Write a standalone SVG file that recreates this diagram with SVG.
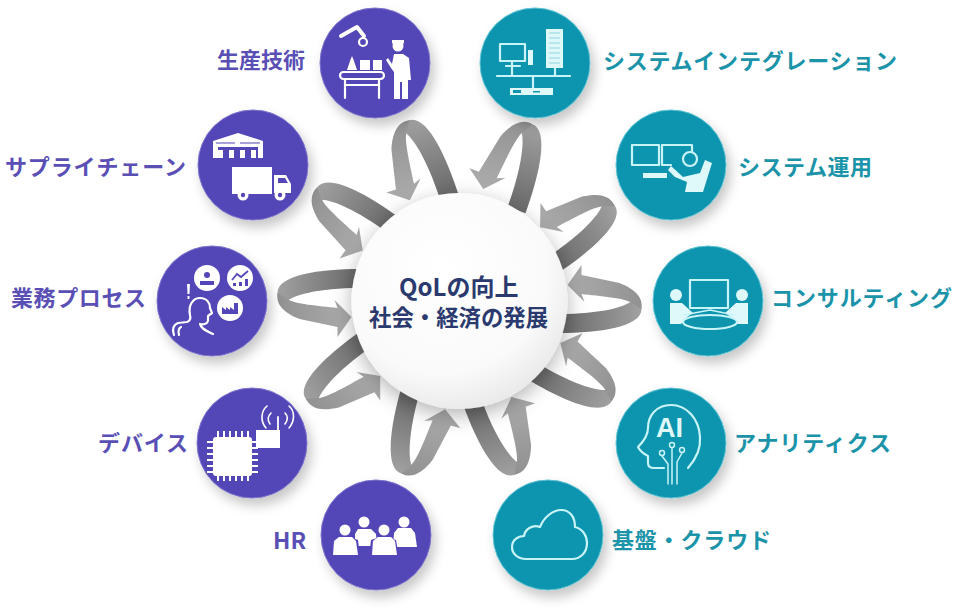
<svg xmlns="http://www.w3.org/2000/svg" width="960" height="608" viewBox="0 0 960 608">
<style>
.lbl{font-family:"Noto Sans CJK JP","Noto Sans",sans-serif;font-weight:700;font-size:22px}
.p{fill:#5a4fb5}.t{fill:#1b93a9}
.cp{fill:#5346b8;stroke:#7d74cc;stroke-width:1}.ct{fill:#0f94ae;stroke:#5fc3d3;stroke-width:1}
.w{fill:#fff;stroke:none}
.o{fill:none;stroke:#fff;stroke-width:2.2;stroke-linejoin:round;stroke-linecap:round}
.oc{fill:none;stroke:#c8f4f8;stroke-width:2.2;stroke-linejoin:round;stroke-linecap:round}
.fc{fill:#dff8fa;stroke:none}
.center{font-family:"Noto Sans CJK JP","Noto Sans",sans-serif;font-weight:700;font-size:22.4px;fill:#2b3a6e}
</style>
<defs>
<filter id="sh" x="-30%" y="-30%" width="170%" height="170%"><feDropShadow dx="4" dy="7" stdDeviation="6" flood-color="#000" flood-opacity=".22"/></filter>
<filter id="shc" x="-30%" y="-30%" width="160%" height="160%"><feDropShadow dx="0" dy="6" stdDeviation="10" flood-color="#000" flood-opacity=".3"/></filter>
<linearGradient id="gd" gradientUnits="userSpaceOnUse" x1="-108" y1="0" x2="-181" y2="0"><stop offset="0" stop-color="#6e6e6e"/><stop offset="1" stop-color="#a0a0a0"/></linearGradient>
<linearGradient id="gl" gradientUnits="userSpaceOnUse" x1="-181" y1="0" x2="-108" y2="0"><stop offset="0" stop-color="#929292"/><stop offset="1" stop-color="#acacac"/></linearGradient>
<radialGradient id="gc" cx=".42" cy=".35" r=".75"><stop offset="0" stop-color="#fff"/><stop offset=".65" stop-color="#fafafa"/><stop offset="1" stop-color="#e2e2e2"/></radialGradient>
<g id="loop">
<path fill="url(#gd)" d="M-100,-32C-140,-32-182,-26-182,-8C-182,-4-180,0-175,3C-170,-6-140,-13-100,-13Z"/>
<path fill="url(#gl)" d="M-182,-8C-184,4-175,12-160,18L-122,26L-122,36L-108,16L-125,-1L-122,7C-140,5-166,3-172,-2Z"/>
</g>
</defs>
<rect width="960" height="608" fill="#fff"/>
<g id="connectors">
<use href="#loop" transform="translate(459.5 301) rotate(0)"/>
<use href="#loop" transform="translate(459.5 301) rotate(36)"/>
<use href="#loop" transform="translate(459.5 301) rotate(72) scale(1.03 1)"/>
<use href="#loop" transform="translate(459.5 301) rotate(110) scale(1.05 1)"/>
<use href="#loop" transform="translate(459.5 301) rotate(146)"/>
<use href="#loop" transform="translate(459.5 301) rotate(180)"/>
<use href="#loop" transform="translate(459.5 301) rotate(211)"/>
<use href="#loop" transform="translate(459.5 301) rotate(250)"/>
<use href="#loop" transform="translate(459.5 301) rotate(286)"/>
<use href="#loop" transform="translate(459.5 301) rotate(325)"/>
</g>
<g id="center">
<circle cx="459.5" cy="301" r="108" fill="url(#gc)" filter="url(#shc)"/>
<text class="center" x="399" y="296" style="font-size:24px">QoLの向上</text>
<text class="center" x="369" y="326">社会・経済の発展</text>
</g>
<g id="n-seisan">
<circle class="cp" cx="375" cy="63" r="55" filter="url(#sh)"/>
<path class="o" style="stroke-width:4" d="M341,36L357,27L364,36"/>
<circle class="o" cx="363" cy="42" r="4"/>
<path class="w" d="M347,70L350,61L352,56L354,61L357,70ZM360,60H370V70H360ZM373,60H382V70H373Z"/>
<rect class="o" x="340" y="72" width="44" height="7" rx="3.5"/>
<path class="o" d="M345,79V98M379,79V98M345,85H379"/>
<circle class="w" cx="398" cy="46" r="5.5"/><rect class="w" x="392" y="40" width="12" height="3.5"/>
<path class="w" d="M386,60L388,58L392,64L394,54H403L409,58L411,80H408V99H402V82H400V99H394V72L391,68Z"/>
<text class="lbl p" x="217" y="68" textLength="88" lengthAdjust="spacing">生産技術</text>
</g>
<g id="n-supply">
<circle class="cp" cx="253" cy="165" r="55" filter="url(#sh)"/>
<path class="w" d="M213,141L238,133L263,141V158H258V147H218V158H213Z"/>
<path d="M216,143H235M240,143H260" stroke="#5346b8" stroke-width="1.2"/>
<path class="w" d="M218,150H223V158H218ZM229,150H234V158H229ZM240,150H245V158H240ZM251,150H256V158H251Z"/>
<path class="w" d="M232,167H272V194H232ZM274,175H286L291,184V193H274Z"/>
<path d="M278,178H285L288,183H278Z" fill="#5346b8"/>
<circle class="w" cx="243" cy="195" r="5.5"/><circle cx="243" cy="195" r="2.2" fill="#5346b8"/>
<circle class="w" cx="280" cy="195" r="5.5"/><circle cx="280" cy="195" r="2.2" fill="#5346b8"/>
<text class="lbl p" x="5" y="175" textLength="181" lengthAdjust="spacing">サプライチェーン</text>
</g>
<g id="n-process">
<circle class="cp" cx="212" cy="301" r="55" filter="url(#sh)"/>
<circle class="w" cx="207" cy="278" r="13"/><circle class="w" cx="240" cy="278" r="13"/><circle class="w" cx="230" cy="308" r="13"/>
<circle cx="207" cy="275" r="3" fill="#5346b8"/><path d="M200,285V281H214V285Z" fill="#5346b8"/>
<path d="M232,280L237,274L241,277L248,271" fill="none" stroke="#5346b8" stroke-width="1.8"/><path d="M233,283h3v3h-3zM239,282h3v4h-3zM245,279h3v7h-3z" fill="#5346b8"/>
<path d="M222,314V307L226,310V307L230,310V307L234,310V303H238V314Z" fill="#5346b8"/>
<path class="w" d="M187,284H190L189.500,294H187.500ZM187.500,296H189.500V299H187.500Z"/>
<path class="o" d="M174,335C172,329 173,325 178,323L187,322C190,321 191,319 190,315C188,305 193,298 200,298C207,298 210,303 210,308L212,313L208,316V321C207,324 203,325 200,324C201,329 207,331 213,334"/>
<path class="o" d="M179,335C178,331 179,328 181,327"/>
<text class="lbl p" x="11" y="306" textLength="135" lengthAdjust="spacing">業務プロセス</text>
</g>
<g id="n-device">
<circle class="cp" cx="252" cy="443" r="55" filter="url(#sh)"/>
<path d="M218,431V481M224,431V481M230,431V481M236,431V481M242,431V481M248,431V481M207,442H258M207,448H258M207,454H258M207,460H258M207,466H258M207,472H258" stroke="#fff" stroke-width="2"/>
<rect class="w" x="213" y="437" width="39" height="39" rx="3"/>
<rect class="w" x="256" y="430" width="24" height="18"/>
<path class="o" d="M278,417V430" style="stroke-width:1.800"/>
<path class="o" style="stroke-width:1.600" d="M270,424C267,420 268,416 271,413M266,428C260,421 261,411 267,406M285,424C288,420 288,416 285,413M289,428C295,421 295,411 289,406"/>
<text class="lbl p" x="98" y="451" textLength="90" lengthAdjust="spacing">デバイス</text>
</g>
<g id="n-hr">
<circle class="cp" cx="376" cy="535" r="55" filter="url(#sh)"/>
<circle class="w" cx="364" cy="522" r="5.500"/><path class="w" d="M358,529H371L376,534L377,546H355L355,534Z"/>
<circle class="w" cx="404" cy="522" r="5.500"/><path class="w" d="M398,528H411L415,533L417,547H393L394,533Z"/>
<path d="M344,536H347L358,540L360,556H332L334,540Z" fill="#5346b8"/>
<circle class="w" cx="345" cy="530" r="5.500"/><path class="w" d="M339,537H352L356,541L358,555H333L334,541Z"/>
<path d="M383,536L371,540L369,557H399L396,540Z" fill="#5346b8"/>
<circle class="w" cx="384" cy="530" r="5.500"/><path class="w" d="M378,537H391L395,541L397,555H372L373,541Z"/>
<text class="lbl p" x="273" y="549" style="font-size:23px">HR</text>
</g>
<g id="n-si">
<circle class="ct" cx="535" cy="63" r="55" filter="url(#sh)"/>
<rect class="oc" x="500" y="44" width="25" height="17"/>
<rect class="fc" x="528" y="50" width="5" height="15"/>
<rect class="fc" x="546" y="29" width="17" height="39"/>
<path d="M549,33H560M549,38H560M549,43H560M549,48H560M549,53H560M549,58H560M549,63H560" stroke="#8fd6e0" stroke-width="1"/>
<path class="oc" d="M506,66H520M512,61V76M497,76H570M555,68V76M533,76V88"/>
<rect class="fc" x="510" y="88" width="43" height="7"/>
<path d="M513,90h8v3h-8zM533,91h7v1.500h-7z" fill="#0f94ae"/>
<text class="lbl t" x="603" y="69" textLength="294" lengthAdjust="spacing">システムインテグレーション</text>
</g>
<g id="n-ops">
<circle class="ct" cx="671" cy="165" r="55" filter="url(#sh)"/>
<rect class="oc" x="632" y="145" width="27" height="20"/>
<path class="oc" d="M662,165H671M662,165V145H692V152"/>
<path class="fc" d="M643,173H667V178H643Z"/>
<path class="fc" d="M671,166L683,177L700,173L705,160L712,163L703,192H685L687,182L675,177L668,170Z"/>
<circle class="oc" cx="690" cy="159" r="7"/>
<text class="lbl t" x="738" y="175" textLength="134" lengthAdjust="spacing">システム運用</text>
</g>
<g id="n-consult">
<circle class="ct" cx="708" cy="301" r="55" filter="url(#sh)"/>
<rect class="oc" x="690" y="280" width="38" height="28"/>
<circle class="fc" cx="676" cy="295" r="6"/><circle class="fc" cx="742" cy="295" r="6"/>
<path class="fc" d="M670,303H682L693,313L687,317L681,324H670ZM748,303H736L725,313L731,317L737,324H748Z"/>
<ellipse cx="710" cy="322" rx="27" ry="7" fill="#0f94ae" stroke="#c8f4f8" stroke-width="2.2"/>
<path class="oc" d="M684,315L710,310L734,315" style="stroke-width:1.500"/>
<text class="lbl t" x="771" y="306" textLength="181" lengthAdjust="spacing">コンサルティング</text>
</g>
<g id="n-ai">
<circle class="ct" cx="671" cy="443" r="55" filter="url(#sh)"/>
<text x="656" y="437" font-family="Liberation Sans,sans-serif" font-weight="700" font-size="27" fill="#dff8fa">AI</text>
<path class="oc" d="M688,468C696,459 701,449 700,437C699,419 687,405 671,405C656,405 648,416 648,428C648,435 644,441 638,447C640,451 644,454 648,456V463C648,466 650,468 654,468H664"/>
<circle class="oc" cx="672" cy="445" r="2.500" style="stroke-width:1.500"/><circle class="oc" cx="662" cy="453" r="2.500" style="stroke-width:1.500"/><circle class="oc" cx="682" cy="450" r="2.500" style="stroke-width:1.500"/>
<path class="oc" style="stroke-width:1.500" d="M672,448V484M668,484V464L662,456M677,484V462L682,453"/>
<text class="lbl t" x="734" y="451" textLength="157" lengthAdjust="spacing">アナリティクス</text>
</g>
<g id="n-cloud">
<circle class="ct" cx="548" cy="535" r="55" filter="url(#sh)"/>
<path class="oc" d="M526,559C517,559 512,553 512,547C512,540 518,536 524,536C525,529 533,524 540,527C544,517 553,510 561,510C570,510 575,517 575,527C583,529 587,536 587,543C587,552 581,559 572,559Z"/>
<text class="lbl t" x="612" y="548" textLength="159" lengthAdjust="spacing">基盤・クラウド</text>
</g>
</svg>
